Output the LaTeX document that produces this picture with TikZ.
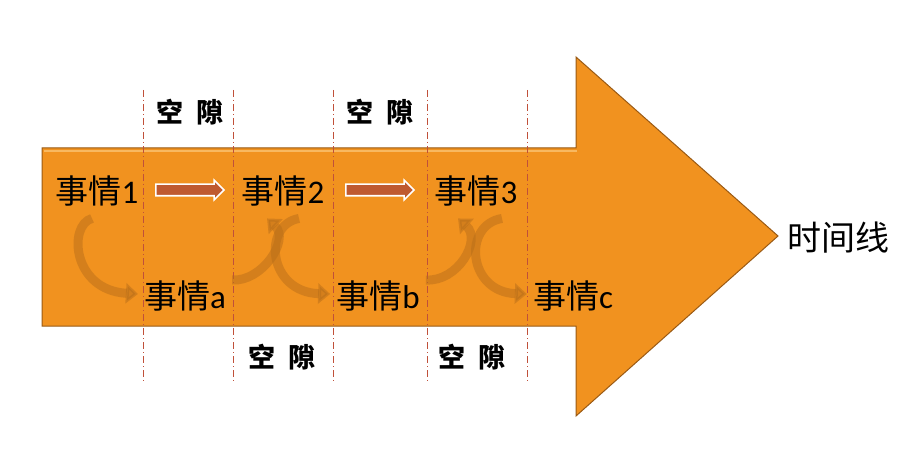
\documentclass[tikz,border=0pt]{standalone}
\usepackage{fontspec}
\newfontfamily\cjk{Noto Sans CJK SC}
\newfontfamily\lat{Carlito}
\usetikzlibrary{arrows.meta,shapes.arrows}
\definecolor{arrowfill}{HTML}{F1921F}
\definecolor{arrowedge}{HTML}{9A5A14}
\definecolor{hilite}{HTML}{F8B860}
\definecolor{gapline}{HTML}{C0503A}
\definecolor{smallarr}{HTML}{BF5A30}
\definecolor{curvecol}{HTML}{B86E1A}
\newcommand{\ev}[1]{{\cjk 事情}{\lat #1}}
\tikzset{
  evt/.style={inner sep=0pt,font=\fontsize{33}{33}\selectfont,text=black},
  gaplbl/.style={inner sep=0pt,font=\fontsize{27}{27}\selectfont\cjk\bfseries},
  gapdash/.style={gapline,line width=0.8pt,dash pattern=on 7pt off 3pt on 1pt off 3pt},
  stepar/.style={single arrow,fill=smallarr,draw=white,line width=1.6pt,
     minimum height=68pt,inner xsep=0pt,inner ysep=5pt,single arrow head extend=4pt,
     single arrow tip angle=90,anchor=center},
  curvar/.style={curvecol,line width=9pt,opacity=0.5,transparency group,
     -{Triangle[width=20pt,length=12pt]}},
}
\begin{document}
\begin{tikzpicture}[x=1pt,y=-1pt]
\useasboundingbox (0,0) rectangle (915,449);
% big arrow
\draw[fill=arrowfill,draw=arrowedge,line width=1pt,line join=miter]
  (42,148) -- (576,148) -- (576,57) -- (778,236) -- (576,416) -- (576,326) -- (42,326) -- cycle;
\draw[hilite,line width=1.2pt] (44,151) -- (577,151);
% gap lines
\foreach \x/\n in {143/a,233/b,333/c,427/d,527/e}{
  \coordinate (t\n) at (\x,90);
  \coordinate (b\n) at (\x,384);
  \draw[gapdash] (t\n) -- (b\n);
}
% gap labels
\node[gaplbl] (g1) at (190,112) {空\hspace{14pt}隙};
\node[gaplbl] (g2) at (380,112) {空\hspace{14pt}隙};
\node[gaplbl] (g3) at (282,357) {空\hspace{14pt}隙};
\node[gaplbl] (g4) at (472,357) {空\hspace{14pt}隙};
% events
\node[evt] (e1) at (97,191) {\ev{1}};
\node[evt] (e2) at (283,191) {\ev{2}};
\node[evt] (e3) at (476,191) {\ev{3}};
\node[evt] (ea) at (185,296) {\ev{a}};
\node[evt] (eb) at (378,296) {\ev{b}};
\node[evt] (ec) at (573,296) {\ev{c}};
\node[evt,font=\fontsize{34}{34}\selectfont\cjk] (tl) at (838,238) {时间线};
% straight arrows
\node[stepar] (s1) at (187,190) {};
\node[stepar] (s2) at (377,190) {};
% curved arrows
\draw[curvar] ([shift={(-5,12)}]e1.south) .. controls (68,225) and (72,290) .. ([shift={(-6,-2)}]ea.west);
\draw[curvar] ([shift={(6,-16)}]ea.east) .. controls (262,282) and (290,240) .. ([shift={(-16,12)}]e2.south);
\draw[curvar] ([shift={(16,12)}]e2.south) .. controls (262,225) and (268,292) .. ([shift={(-6,-2)}]eb.west);
\draw[curvar] ([shift={(6,-16)}]eb.east) .. controls (458,282) and (482,240) .. ([shift={(-18,12)}]e3.south);
\draw[curvar] ([shift={(26,12)}]e3.south) .. controls (462,225) and (468,292) .. ([shift={(-6,-2)}]ec.west);
\end{tikzpicture}
\end{document}
